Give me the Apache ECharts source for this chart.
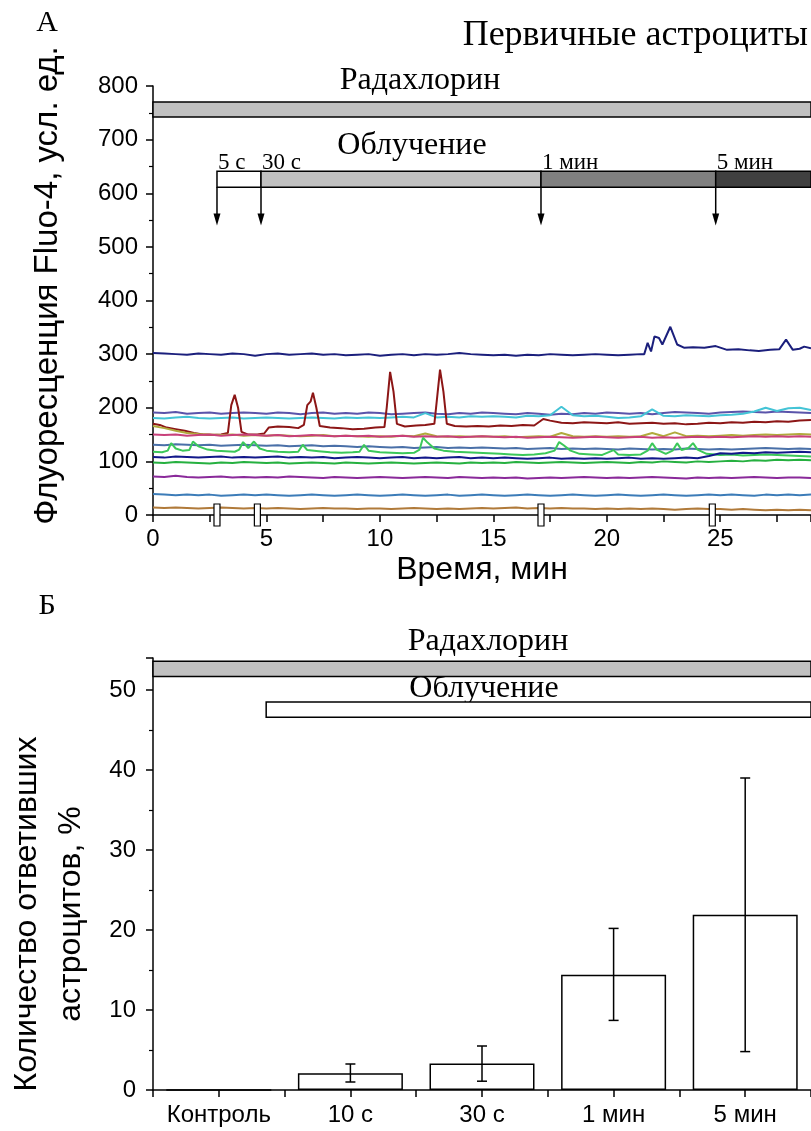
<!DOCTYPE html>
<html><head><meta charset="utf-8">
<script src="https://cdn.jsdelivr.net/npm/echarts@6/dist/echarts.min.js"></script>
<style>html,body{margin:0;padding:0;background:#fff}#c{width:811px;height:1131px}</style>
</head><body><div id="c"></div>
<script>
// ================= DATA =================
// Panel A: sampling grid (min) for the flat traces
const timeGrid = [0,0.5,1,1.5,2,2.5,3,3.5,4,4.5, 5,5.5,6,6.5,7,7.5,8,8.5,9,9.5,
  10,10.5,11,11.5,12,12.5,13,13.5,14,14.5, 15,15.5,16,16.5,17,17.5,18,18.5,19,19.5,
  20,20.5,21,21.5,22,22.5,23,23.5,24,24.5, 25,25.5,26,26.5,27,27.5,28,28.5,29];

const traceSlate = [191,190,192,189,190,191,189,190,191,190, 189,191,190,188,190,191,189,190,189,191,
  190,188,189,190,191,189,188,190,189,191, 190,189,188,190,189,187,189,188,190,189,
  191,190,189,190,188,190,192,191,190,189, 191,192,193,192,191,193,192,191,190];
const traceCyan = [181,180,182,183,181,180,181,182,180,181, 182,181,180,181,182,181,180,182,181,182,
  181,182,183,182,190,182,183,182,184,183, 184,183,182,185,184,186,202,186,184,185,
  183,181,182,184,197,185,184,186,185,184, 186,187,189,193,200,194,199,200,196];
const traceOlive = [166,162,157,153,151,150,149,150,148,149, 148,149,148,147,148,149,147,148,147,146,
  147,146,148,147,152,147,146,147,146,147, 146,147,145,146,147,146,153,147,146,147,
  146,147,146,147,153,147,154,147,148,147, 148,149,148,149,150,149,150,151,150];
const tracePink = [150,149,150,148,149,150,148,149,150,149, 148,149,147,148,149,148,147,148,147,148,
  146,147,148,146,147,146,147,145,146,147, 146,145,146,144,145,146,145,144,145,146,
  145,144,145,146,144,145,144,145,146,145, 146,145,146,147,146,147,146,147,146];
const traceSteel = [131,130,132,131,130,131,129,130,131,130, 129,130,128,129,130,128,129,128,127,128,
  127,126,127,125,126,127,125,126,125,126, 125,124,125,123,124,125,123,124,123,124,
  123,122,124,123,122,123,122,124,123,122, 123,122,123,124,125,124,123,124,123];
const traceNavy2 = [108,107,109,108,107,108,109,107,108,107, 108,109,107,108,107,108,106,107,108,107,
  106,107,108,106,107,106,107,108,106,107, 106,107,106,105,106,107,105,106,105,106,
  105,106,107,105,106,105,106,107,106,110, 115,114,116,115,117,116,117,118,117];
const traceGreen2 = [98,97,99,98,97,96,98,97,99,98, 97,98,96,97,98,97,96,98,97,96,
  97,98,97,96,97,98,97,96,98,97, 98,97,99,98,97,98,99,98,97,98,
  99,98,97,99,98,100,99,98,100,99, 100,101,100,102,101,103,102,103,102];
const tracePurple = [72,71,73,71,70,71,72,70,71,70, 71,70,72,71,70,69,71,70,69,70,
  71,70,69,70,71,70,69,71,70,69, 70,69,70,68,69,70,69,70,71,70,
  69,70,69,70,71,70,69,68,70,69, 70,69,70,71,70,69,70,70,69];
const traceSteel2 = [39,38,37,38,37,38,36,37,38,37, 38,37,36,37,38,37,36,37,38,37,
  36,37,38,37,36,37,38,36,37,38, 37,36,37,38,37,36,37,38,37,36,
  37,38,37,36,37,38,37,36,37,38, 37,38,37,36,38,37,38,37,38];
const traceBrown = [14,13,14,13,12,13,14,13,12,13, 12,13,12,11,12,13,12,12,11,12,
  12,11,12,13,12,11,12,11,12,13, 12,13,14,12,13,12,13,12,12,11,
  12,11,12,11,12,11,10,11,12,11, 11,10,11,10,9,10,9,10,9];

// Spiky traces as [time, value] pairs
const traceNavyTop = [[0,302],[0.5,301],[1,300],[1.5,299],[2,301],[2.5,300],[3,299],[3.5,301],[4,300],[4.5,297],
  [5,300],[5.5,301],[6,299],[6.5,300],[7,301],[7.5,299],[8,300],[8.5,298],[9,299],[9.5,300],
  [10,297],[10.5,299],[11,300],[11.5,298],[12,300],[12.5,299],[13,300],[13.5,302],[14,300],[14.5,299],
  [15,298],[15.5,299],[16,297],[16.5,299],[17,298],[17.5,300],[18,299],[18.5,298],[19,299],[19.5,300],
  [20,299],[20.5,298],[21,299],[21.5,300],[21.65,300],[21.8,321],[21.95,305],[22.1,333],[22.3,330],[22.45,318],
  [22.8,351],[23.1,318],[23.4,312],[23.8,313],[24.3,312],[24.8,315],[25.3,308],[25.8,309],[26.3,307],[26.7,306],
  [27.2,308],[27.6,309],[27.9,327],[28.2,308],[28.5,310],[28.7,314],[29,311]];
const traceDarkRed = [[0,170],[0.3,168],[0.6,163],[1,160],[1.4,157],[1.8,153],[2.2,150],[2.6,149],[3.0,150],[3.3,153],
  [3.45,205],[3.6,224],[3.75,200],[3.9,155],[4.2,150],[4.6,150],[4.9,152],[5.1,163],[5.5,165],[6.0,164],
  [6.4,162],[6.65,168],[6.8,205],[6.95,212],[7.05,228],[7.2,200],[7.35,166],[7.8,163],[8.3,162],[8.8,160],
  [9.3,161],[9.8,163],[10.2,164],[10.3,200],[10.45,267],[10.6,230],[10.75,170],[11.1,165],[11.6,167],[12.0,168],
  [12.4,170],[12.5,210],[12.65,271],[12.8,230],[12.95,170],[13.3,166],[13.8,165],[14.3,166],[14.8,165],[15.3,167],
  [15.8,166],[16.3,168],[16.8,167],[17.2,179],[17.5,176],[18,172],[18.5,171],[19,173],[19.5,172],[20,171],
  [20.5,173],[21,170],[21.5,171],[22,172],[22.5,170],[23,171],[23.5,169],[24,170],[24.5,172],[25,171],
  [25.5,173],[26,172],[26.5,174],[27,173],[27.5,175],[28,174],[28.5,176],[29,177]];
const traceGreen = [[0,118],[0.4,117],[0.65,120],[0.8,134],[1.0,124],[1.3,120],[1.6,121],[1.76,137],[2.0,128],[2.4,122],
  [2.8,120],[3.2,119],[3.6,118],[3.8,122],[3.97,136],[4.2,125],[4.45,137],[4.7,124],[5.0,120],[5.5,118],
  [6.0,117],[6.4,118],[6.6,131],[6.8,121],[7.3,119],[7.8,117],[8.3,116],[8.8,117],[9.1,118],[9.3,131],
  [9.5,120],[10,117],[10.5,116],[11,115],[11.5,116],[11.75,122],[11.9,144],[12.1,135],[12.4,124],[12.8,120],
  [13.3,118],[13.8,117],[14.3,116],[14.8,115],[15.3,114],[15.8,113],[16.3,112],[16.8,113],[17.3,115],[17.7,120],
  [17.9,136],[18.1,130],[18.4,120],[18.8,114],[19.3,113],[19.8,112],[20.3,121],[20.5,113],[21,112],[21.5,113],
  [21.8,120],[22,134],[22.2,122],[22.6,114],[22.9,120],[23.1,134],[23.3,121],[23.6,125],[23.8,134],[24.0,122],
  [24.4,114],[25,112],[25.5,113],[26,111],[26.5,112],[27,113],[27.5,112],[28,111],[28.5,110],[29,109]];

// Panel A annotations (time, min)
const radachlorinSpanA = [0, 29];
const irradiationStarts = [2.82, 4.76, 17.1, 24.8];
const irradiationEnd = 29;
const irradiationLabels = ['5 с', '30 с', '1 мин', '5 мин'];
const axisBreakTimes = [2.82, 4.6, 17.1, 24.65];
const xTicksA = [0, 5, 10, 15, 20, 25];

// Panel B
const categories = ['Контроль', '10 с', '30 с', '1 мин', '5 мин'];
const respondedPct = [0, 2.1, 3.3, 14.4, 21.9];
const errLow = [0, 1.0, 1.1, 8.7, 4.8];
const errHigh = [0, 3.25, 5.5, 20.2, 39.0];
const yTicksB = [0, 10, 20, 30, 40, 50];
const radachlorinSpanB = [-0.5, 4.5];
const irradiationSpanB = [0.36, 4.5];

// ================= STYLE / LAYOUT =================
const SANS = "'Liberation Sans', Arial, sans-serif";
const SERIF = "'Liberation Serif', 'Times New Roman', serif";
const bandRadA = [742, 770], bandIrrA = [611, 641], arrowTipA = 540;
const bandRadB = [51.7, 53.6], bandIrrB = [46.6, 48.5];
const irrColors = ['#ffffff', '#c0c0c0', '#808080', '#404040'];
const traceStyles = [
  ['#1b1f7c', traceNavyTop, true],
  ['#5a54aa', traceSlate, false],
  ['#44c4d6', traceCyan, false],
  ['#8c1616', traceDarkRed, true],
  ['#b0aa3c', traceOlive, false],
  ['#c8407a', tracePink, false],
  ['#4a70a8', traceSteel, false],
  ['#3cc85a', traceGreen, true],
  ['#12188a', traceNavy2, false],
  ['#26b040', traceGreen2, false],
  ['#8a2a9a', tracePurple, false],
  ['#3c7cb8', traceSteel2, false],
  ['#b07a3a', traceBrown, false]
];

const chart = echarts.init(document.getElementById('c'), null, {renderer: 'canvas'});

function axisCommon() {
  return {
    axisLine: {show: true, onZero: false, lineStyle: {color: '#000', width: 1.5}},
    axisTick: {show: true, length: 7, lineStyle: {color: '#000', width: 1.5}},
    minorTick: {show: true, splitNumber: 2, length: 4, lineStyle: {color: '#000', width: 1.2}},
    splitLine: {show: false}
  };
}

const lineSeries = traceStyles.map(([color, vals, paired]) => ({
  type: 'line', xAxisIndex: 0, yAxisIndex: 0, symbol: 'none', silent: true,
  lineStyle: {color, width: 2}, animation: false,
  data: paired ? vals : vals.map((v, i) => [timeGrid[i], v])
}));

function bandRender(band, fill) {
  return function (params, api) {
    const p0 = api.coord([api.value(0), band[1]]);
    const p1 = api.coord([api.value(1), band[0]]);
    return {type: 'rect', shape: {x: p0[0], y: p0[1], width: p1[0] - p0[0], height: p1[1] - p0[1]},
      style: {fill, stroke: '#000', lineWidth: 1.5}};
  };
}

const irrSegments = irradiationStarts.map((s, i) => [s, i + 1 < irradiationStarts.length ? irradiationStarts[i + 1] : irradiationEnd, i]);

const option = {
  backgroundColor: '#fff',
  animation: false,
  grid: [
    {left: 153, top: 86, width: 658, height: 429, outerBoundsMode: 'none', containLabel: false},
    {left: 153, top: 658, width: 658, height: 432, outerBoundsMode: 'none', containLabel: false}
  ],
  xAxis: [
    Object.assign(axisCommon(), {
      type: 'value', gridIndex: 0, min: 0, max: 29, interval: 2.5,
      minorTick: {show: false},
      axisLabel: {color: '#000', fontFamily: SANS, fontSize: 24, margin: 12,
        formatter: v => (xTicksA.indexOf(v) >= 0 ? String(v) : '')},
      name: 'Время, мин', nameLocation: 'middle', nameGap: 39,
      nameTextStyle: {color: '#000', fontFamily: SANS, fontSize: 32}
    }),
    Object.assign(axisCommon(), {
      type: 'value', gridIndex: 1, min: -0.5, max: 4.5, interval: 0.5,
      minorTick: {show: false},
      axisLabel: {color: '#000', fontFamily: SANS, fontSize: 24, margin: 13,
        formatter: v => (Number.isInteger(v) && v >= 0 && v < categories.length ? categories[v] : '')}
    })
  ],
  yAxis: [
    Object.assign(axisCommon(), {
      type: 'value', gridIndex: 0, min: 0, max: 800, interval: 100,
      axisLabel: {color: '#000', fontFamily: SANS, fontSize: 24, margin: 15},
      name: 'Флуоресценция Fluo-4, усл. ед.', nameLocation: 'middle', nameGap: 89,
      nameTextStyle: {color: '#000', fontFamily: SANS, fontSize: 33, padding: [0, 0, 0, 30]}
    }),
    Object.assign(axisCommon(), {
      type: 'value', gridIndex: 1, min: 0, max: 54, interval: 10,
      axisLabel: {color: '#000', fontFamily: SANS, fontSize: 24, margin: 17,
        formatter: v => (yTicksB.indexOf(v) >= 0 ? String(v) : '')},
      name: 'Количество ответивших\nастроцитов, %', nameLocation: 'middle', nameGap: 60,
      nameTextStyle: {color: '#000', fontFamily: SANS, fontSize: 32, lineHeight: 44, padding: [0, 80, 0, 0]}
    })
  ],
  series: [
    ...lineSeries,
    {type: 'custom', xAxisIndex: 0, yAxisIndex: 0, clip: false, silent: true,
      data: [radachlorinSpanA], renderItem: bandRender(bandRadA, '#c0c0c0')},
    {type: 'custom', xAxisIndex: 0, yAxisIndex: 0, clip: false, silent: true,
      data: irrSegments,
      renderItem: function (params, api) {
        const i = api.value(2);
        const p0 = api.coord([api.value(0), bandIrrA[1]]);
        const p1 = api.coord([api.value(1), bandIrrA[0]]);
        return {type: 'group', children: [
          {type: 'rect', shape: {x: p0[0], y: p0[1], width: p1[0] - p0[0], height: p1[1] - p0[1]},
            style: {fill: irrColors[i], stroke: '#000', lineWidth: 1.5}},
          {type: 'text', x: p0[0] + 1, y: p0[1] + 3,
            style: {text: irradiationLabels[i], font: '23px ' + SERIF, fill: '#000',
              textAlign: 'left', textVerticalAlign: 'bottom'}}
        ]};
      }},
    {type: 'custom', xAxisIndex: 0, yAxisIndex: 0, clip: false, silent: true,
      data: irradiationStarts.map(t => [t]),
      renderItem: function (params, api) {
        const a = api.coord([api.value(0), bandIrrA[0]]);
        const b = api.coord([api.value(0), arrowTipA]);
        return {type: 'group', children: [
          {type: 'line', shape: {x1: a[0], y1: a[1], x2: b[0], y2: b[1] - 10}, style: {stroke: '#000', lineWidth: 1.5}},
          {type: 'polygon', shape: {points: [[b[0] - 3.5, b[1] - 12], [b[0] + 3.5, b[1] - 12], [b[0], b[1]]]}, style: {fill: '#000'}}
        ]};
      }},
    {type: 'custom', xAxisIndex: 0, yAxisIndex: 0, clip: false, silent: true, z: 10,
      data: axisBreakTimes.map(t => [t]),
      renderItem: function (params, api) {
        const p = api.coord([api.value(0), 0]);
        return {type: 'rect', shape: {x: p[0] - 3, y: p[1] - 11, width: 6, height: 22},
          style: {fill: '#fff', stroke: '#000', lineWidth: 1.2}};
      }},
    {type: 'bar', xAxisIndex: 1, yAxisIndex: 1, barWidth: 105, silent: true,
      data: respondedPct.map((v, i) => [i, v]),
      itemStyle: {color: '#fff', borderColor: '#000', borderWidth: 1.5}},
    {type: 'custom', xAxisIndex: 1, yAxisIndex: 1, silent: true, z: 5,
      data: categories.map((c, i) => [i, errLow[i], errHigh[i]]),
      renderItem: function (params, api) {
        if (api.value(2) === api.value(1)) return null;
        const lo = api.coord([api.value(0), api.value(1)]);
        const hi = api.coord([api.value(0), api.value(2)]);
        const s = {stroke: '#000', lineWidth: 1.5};
        return {type: 'group', children: [
          {type: 'line', shape: {x1: lo[0], y1: lo[1], x2: hi[0], y2: hi[1]}, style: s},
          {type: 'line', shape: {x1: lo[0] - 5, y1: lo[1], x2: lo[0] + 5, y2: lo[1]}, style: s},
          {type: 'line', shape: {x1: hi[0] - 5, y1: hi[1], x2: hi[0] + 5, y2: hi[1]}, style: s}
        ]};
      }},
    {type: 'custom', xAxisIndex: 1, yAxisIndex: 1, clip: false, silent: true,
      data: [radachlorinSpanB], renderItem: bandRender(bandRadB, '#c0c0c0')},
    {type: 'custom', xAxisIndex: 1, yAxisIndex: 1, clip: false, silent: true,
      data: [irradiationSpanB], renderItem: bandRender(bandIrrB, '#ffffff')}
  ],
  graphic: [
    {type: 'text', x: 47, y: 23, style: {text: 'А', font: '30px ' + SERIF, fill: '#000', textAlign: 'center', textVerticalAlign: 'middle'}},
    {type: 'text', x: 808, y: 36, style: {text: 'Первичные астроциты', font: '36px ' + SERIF, fill: '#000', textAlign: 'right', textVerticalAlign: 'middle'}},
    {type: 'text', x: 420, y: 81, style: {text: 'Радахлорин', font: '32px ' + SERIF, fill: '#000', textAlign: 'center', textVerticalAlign: 'middle'}},
    {type: 'text', x: 412, y: 146, style: {text: 'Облучение', font: '32px ' + SERIF, fill: '#000', textAlign: 'center', textVerticalAlign: 'middle'}},
    {type: 'text', x: 47, y: 606, style: {text: 'Б', font: '30px ' + SERIF, fill: '#000', textAlign: 'center', textVerticalAlign: 'middle'}},
    {type: 'text', x: 488, y: 642, style: {text: 'Радахлорин', font: '32px ' + SERIF, fill: '#000', textAlign: 'center', textVerticalAlign: 'middle'}},
    {type: 'text', x: 484, y: 689, style: {text: 'Облучение', font: '32px ' + SERIF, fill: '#000', textAlign: 'center', textVerticalAlign: 'middle'}}
  ]
};
chart.setOption(option);
</script></body></html>
